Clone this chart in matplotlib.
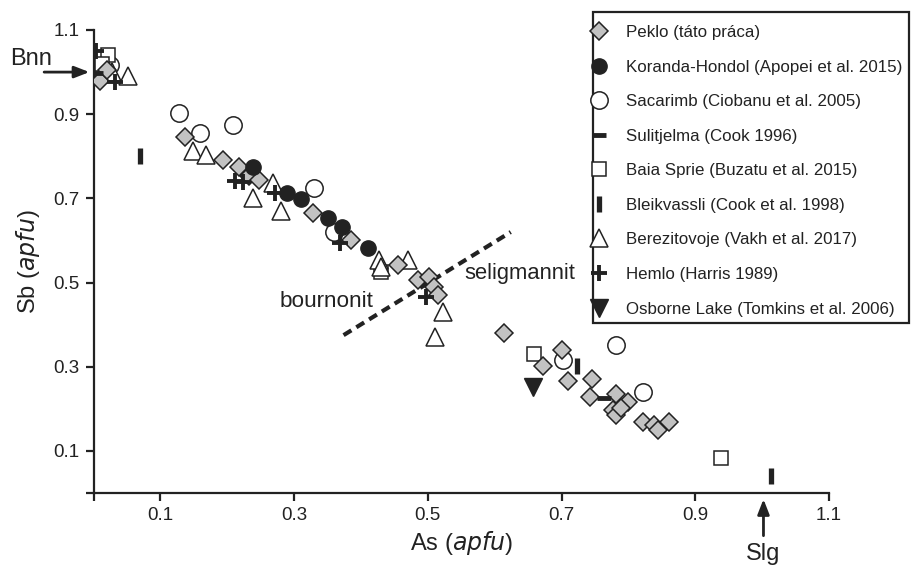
import matplotlib.pyplot as plt
from matplotlib.patches import Rectangle
import numpy as np

plt.rcParams['font.family'] = ['Liberation Sans', 'DejaVu Sans']

# As / Sb (apfu), one pair of lists per locality
peklo_x = [0.010, 0.020, 0.137, 0.193, 0.217, 0.232, 0.247, 0.329, 0.385, 0.455,
           0.485, 0.502, 0.509, 0.515, 0.614, 0.672, 0.701, 0.710, 0.746, 0.743,
           0.782, 0.800, 0.777, 0.782, 0.789, 0.822, 0.839, 0.845, 0.860]
peklo_y = [0.980, 1.005, 0.846, 0.791, 0.774, 0.753, 0.743, 0.665, 0.601, 0.542,
           0.506, 0.513, 0.490, 0.470, 0.380, 0.302, 0.340, 0.266, 0.271, 0.228,
           0.235, 0.216, 0.197, 0.185, 0.202, 0.169, 0.161, 0.150, 0.169]
koranda_x = [0.239, 0.290, 0.310, 0.350, 0.372, 0.410]
koranda_y = [0.774, 0.713, 0.698, 0.653, 0.632, 0.582]
sacarimb_x = [0.025, 0.128, 0.160, 0.209, 0.330, 0.359, 0.702, 0.782, 0.822]
sacarimb_y = [1.017, 0.903, 0.855, 0.874, 0.724, 0.620, 0.316, 0.352, 0.240]
sulit_x = [0.003, 0.764]
sulit_y = [0.998, 0.226]
baia_x = [0.022, 0.012, 0.430, 0.659, 0.938]
baia_y = [1.040, 1.020, 0.525, 0.330, 0.083]
bleik_x = [0.070, 0.723, 1.014]
bleik_y = [0.800, 0.302, 0.040]
berez_x = [0.028, 0.052, 0.149, 0.169, 0.239, 0.269, 0.280, 0.427, 0.430, 0.470, 0.522, 0.510]
berez_y = [1.000, 0.990, 0.812, 0.803, 0.700, 0.736, 0.670, 0.553, 0.537, 0.553, 0.430, 0.370]
hemlo_x = [0.003, 0.032, 0.212, 0.223, 0.272, 0.368, 0.497]
hemlo_y = [1.050, 0.976, 0.741, 0.739, 0.713, 0.594, 0.466]
osborne_x = [0.657]
osborne_y = [0.252]

labels = ['Peklo (táto práca)', 'Koranda-Hondol (Apopei et al. 2015)',
          'Sacarimb (Ciobanu et al. 2005)', 'Sulitjelma (Cook 1996)',
          'Baia Sprie (Buzatu et al. 2015)', 'Bleikvassli (Cook et al. 1998)',
          'Berezitovoje (Vakh et al. 2017)', 'Hemlo (Harris 1989)',
          'Osborne Lake (Tomkins et al. 2006)']

# boundary bournonit / seligmannit
div_x = [0.374, 0.624]
div_y = [0.375, 0.620]

ink = '#222222'
gray = '#c2c2c2'
W, H = 911, 565

fig = plt.figure(figsize=(9.11, 5.65), dpi=100)
ax = fig.add_axes([93.5 / W, 72 / H, (829 - 93.5) / W, (493 - 30) / H])

ax.plot(div_x, div_y, color=ink, lw=3, dashes=(2.2, 1.4), zorder=1)

ax.plot(peklo_x, peklo_y, 'D', ms=9.5, mfc=gray, mec=ink, mew=1.1, label=labels[0], zorder=3)
ax.plot(koranda_x, koranda_y, 'o', ms=11, mfc=ink, mec=ink, mew=1, label=labels[1], zorder=3)
ax.plot(sacarimb_x, sacarimb_y, 'o', ms=12.5, mfc='white', mec=ink, mew=1.1, label=labels[2], zorder=2)
ax.plot(sulit_x, sulit_y, '_', ms=10, mec=ink, mew=3.5, label=labels[3], zorder=4)
ax.plot(baia_x, baia_y, 's', ms=10, mfc='white', mec=ink, mew=1.1, label=labels[4], zorder=2)
ax.plot(bleik_x, bleik_y, '|', ms=11, mec=ink, mew=3.8, label=labels[5], zorder=4)
ax.plot(berez_x, berez_y, '^', ms=13, mfc='white', mec=ink, mew=1.1, label=labels[6], zorder=2)
ax.plot(hemlo_x, hemlo_y, '+', ms=12, mec=ink, mew=2.8, label=labels[7], zorder=4)
ax.plot(osborne_x, osborne_y, 'v', ms=13, mfc=ink, mec=ink, mew=1, label=labels[8], zorder=3)

ax.set_xlim(0, 1.1)
ax.set_ylim(0, 1.1)
ticks = [0, 0.1, 0.3, 0.5, 0.7, 0.9, 1.1]
ticklabels = ['', '0.1', '0.3', '0.5', '0.7', '0.9', '1.1']
ax.set_xticks(ticks)
ax.set_xticklabels(ticklabels)
ax.set_yticks(ticks)
ax.set_yticklabels(ticklabels)
ax.tick_params(direction='out', length=6, width=1.6, color=ink, labelcolor=ink,
               labelsize=13.5, pad=4)
for side in ['top', 'right']:
    ax.spines[side].set_visible(False)
for side in ['left', 'bottom']:
    ax.spines[side].set_linewidth(1.6)
    ax.spines[side].set_color(ink)

ax.set_xlabel('As ($\\it{apfu}$)', fontsize=17, color=ink, labelpad=4)
ax.set_ylabel('Sb ($\\it{apfu}$)', fontsize=17, color=ink, labelpad=8)

ax.text(0.278, 0.454, 'bournonit', fontsize=16.2, color=ink, va='center')
ax.text(0.554, 0.522, 'seligmannit', fontsize=15.8, color=ink, va='center')

# end-member arrows
ax.annotate('', xy=(-0.002, 1.0), xytext=(-0.078, 1.0), annotation_clip=False,
            arrowprops=dict(arrowstyle='-|>,head_length=0.9,head_width=0.35',
                            color=ink, lw=2))
ax.text(-0.094, 1.03, 'Bnn', fontsize=17, color=ink, ha='center', va='center')
ax.annotate('', xy=(1.002, -0.008), xytext=(1.002, -0.108), annotation_clip=False,
            arrowprops=dict(arrowstyle='-|>,head_length=0.9,head_width=0.35',
                            color=ink, lw=2))
ax.text(1.002, -0.145, 'Slg', fontsize=17, color=ink, ha='center', va='center')

# legend box drawn separately so its padding can match the original
box = Rectangle((593 / W, 1 - 323 / H), (909 - 593) / W, (323 - 12) / H,
                transform=fig.transFigure, facecolor='white', edgecolor=ink,
                lw=1.6, zorder=5, clip_on=False)
ax.add_patch(box)
leg = ax.legend(loc='upper left', bbox_to_anchor=(597 / W, 1 - 25 / H),
                bbox_transform=fig.transFigure, fontsize=12.2, frameon=False,
                borderpad=0, labelspacing=1.155, handlelength=0.25,
                handletextpad=1.45, borderaxespad=0, numpoints=1)
leg.set_zorder(6)
for t in leg.get_texts():
    t.set_color(ink)

fig.savefig('out.png', dpi=100)
